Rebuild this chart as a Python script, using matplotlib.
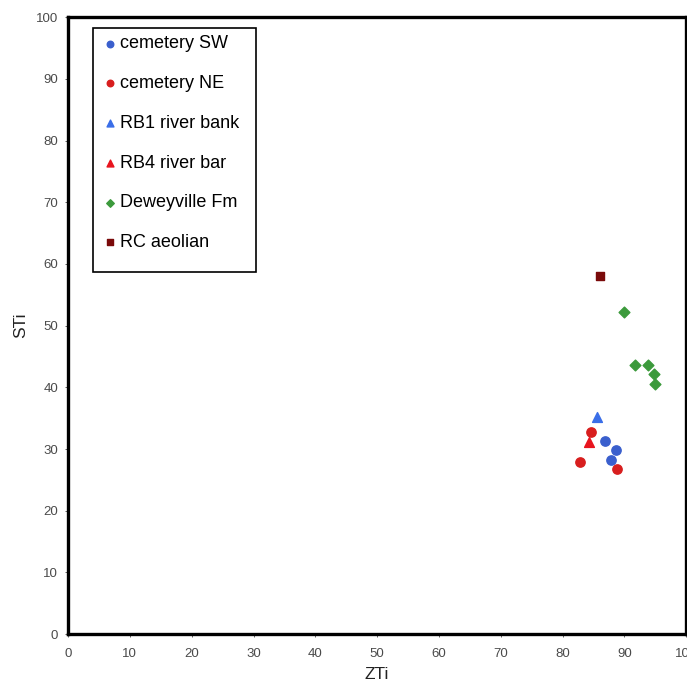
import matplotlib
matplotlib.use("Agg")
import matplotlib.pyplot as plt
from matplotlib.patches import Rectangle

plt.rcParams["font.family"] = ["Liberation Sans", "DejaVu Sans"]

# data (ZTi, STi)
sw_zti = [86.9, 88.6, 87.9]
sw_sti = [31.3, 29.9, 28.3]
ne_zti = [84.6, 82.8, 88.8]
ne_sti = [32.8, 27.9, 26.8]
rb1_zti = [85.6]
rb1_sti = [35.2]
rb4_zti = [84.3]
rb4_sti = [31.2]
dew_zti = [90.0, 91.7, 93.8, 94.7, 94.9]
dew_sti = [52.2, 43.7, 43.7, 42.1, 40.5]
rc_zti = [86.0]
rc_sti = [58.1]

fig = plt.figure(figsize=(6.87, 6.87), dpi=100)
ax = fig.add_axes([0.099, 0.077, 0.9, 0.898])

ax.scatter(sw_zti, sw_sti, marker="o", s=45, color="#3a5fcd", label="cemetery SW", zorder=3)
ax.scatter(ne_zti, ne_sti, marker="o", s=45, color="#d81e1e", label="cemetery NE", zorder=3)
ax.scatter(rb1_zti, rb1_sti, marker="^", s=50, color="#3a6ee8", label="RB1 river bank", zorder=3)
ax.scatter(rb4_zti, rb4_sti, marker="^", s=50, color="#e8141e", label="RB4 river bar", zorder=3)
ax.scatter(dew_zti, dew_sti, marker="D", s=30, color="#3c9a3c", label="Deweyville Fm", zorder=3)
ax.scatter(rc_zti, rc_sti, marker="s", s=40, color="#7a0a0a", label="RC aeolian", zorder=3)

ax.set_xlim(0, 100)
ax.set_ylim(0, 100)
ax.set_xticks(range(0, 101, 10))
ax.set_yticks(range(0, 101, 10))
ax.tick_params(labelsize=9.5, colors="#4a4a4a", length=2, width=0.6)
ax.tick_params(axis="x", pad=8)
ax.tick_params(axis="y", pad=5)
for sp in ax.spines.values():
    sp.set_linewidth(2.4)
    sp.set_color("black")

ax.set_xlabel("ZTi", fontsize=12.5, color="#222222", labelpad=5)
ax.set_ylabel("STi", fontsize=12.5, color="#222222", labelpad=6)

# legend box drawn separately (extra space under the last entry, as in the original)
ax.add_patch(Rectangle((0.0405, 0.587), 0.2635, 0.395, transform=ax.transAxes,
                       fill=False, edgecolor="black", linewidth=1.2, zorder=4))
leg = ax.legend(loc="upper left", bbox_to_anchor=(0.04, 0.988), fontsize=13,
                frameon=False, labelspacing=1.26, handletextpad=0.2,
                handlelength=0.7, borderpad=0.6, markerscale=0.7, borderaxespad=0)

fig.savefig("out.png", dpi=100)
